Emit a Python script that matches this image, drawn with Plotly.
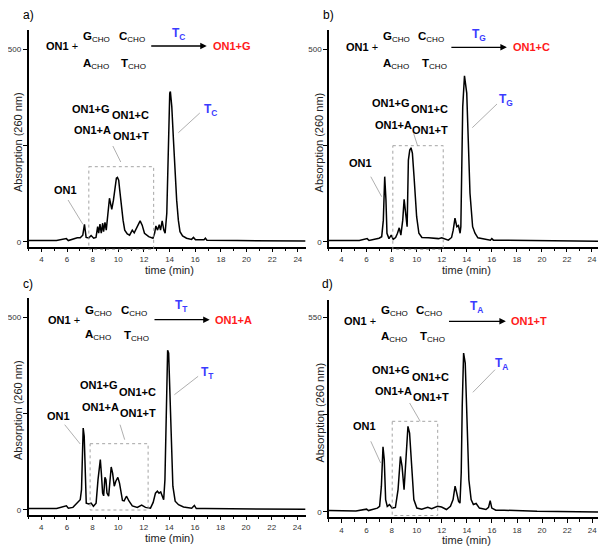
import plotly.graph_objects as go

# ---------------- data ----------------
time_a = [3.0, 5.18, 5.95, 6.1, 6.8, 7.03, 7.23, 7.36, 7.49, 7.7, 7.88, 8.08, 8.26, 8.39, 8.47, 8.57, 8.67,
          8.78, 8.85, 8.96, 9.06, 9.16, 9.24, 9.31, 9.39, 9.49, 9.62, 9.75, 9.85, 9.93, 10.03, 10.11, 10.24,
          10.37, 10.5, 10.7, 10.88, 11.09, 11.24, 11.47, 11.7, 11.86, 12.04, 12.37, 12.7, 12.83, 12.93, 13.06,
          13.19, 13.29, 13.42, 13.55, 13.65, 13.78, 13.88, 14.01, 14.06, 14.17, 14.3, 14.42, 14.55, 14.68,
          14.81, 15.01, 15.32, 15.71, 15.86, 16.02, 16.68, 16.79, 16.91, 19.3, 24.6]
abs_a = [3, 3, 8, 3, 10, 10, 17, 45, 11, 10, 16, 9, 11, 39, 22, 46, 22,
         48, 26, 50, 30, 61, 74, 113, 100, 84, 108, 143, 165, 167, 160, 134, 91,
         56, 30, 20, 17, 30, 23, 39, 54, 43, 22, 13, 9, 22, 41, 30,
         44, 30, 54, 30, 22, 74, 238, 386, 390, 351, 264, 178, 108, 56,
         26, 15, 9, 6, 11, 5, 5, 9, 4, 3, 2]

time_b = [3.0, 5.29, 5.42, 6.05, 6.2, 7.0, 7.21, 7.34, 7.45, 7.55, 7.63, 7.79, 7.97, 8.13, 8.32, 8.47, 8.61,
          8.74, 8.89, 9.0, 9.13, 9.24, 9.34, 9.45, 9.55, 9.66, 9.79, 9.89, 10.0, 10.18, 10.42, 10.95, 11.74,
          12.0, 12.53, 12.79, 12.92, 13.06, 13.21, 13.34, 13.47, 13.53, 13.6, 13.68, 13.82, 14.0, 14.13,
          14.26, 14.47, 14.66, 14.89, 15.42, 15.89, 16.0, 16.13, 17.0, 19.6, 25.1]
abs_b = [3, 4, 3, 8, 3, 9, 13, 56, 169, 108, 22, 8, 17, 6, 11, 22, 36,
         17, 56, 110, 74, 39, 212, 238, 244, 230, 170, 108, 65, 22, 11, 10, 8,
         10, 4, 11, 30, 61, 39, 42, 22, 39, 169, 351, 431, 386, 256,
         126, 39, 22, 10, 6, 4, 8, 4, 4, 3, 1]

time_c = [3.0, 5.19, 5.96, 6.11, 6.47, 6.86, 7.04, 7.14, 7.22, 7.27, 7.35, 7.43, 7.51, 7.71, 7.89, 8.07,
          8.28, 8.43, 8.54, 8.61, 8.69, 8.79, 8.87, 8.97, 9.05, 9.13, 9.26, 9.36, 9.46, 9.57, 9.7, 9.82,
          9.98, 10.11, 10.21, 10.34, 10.47, 10.65, 10.86, 11.11, 11.5, 11.84, 12.14, 12.53, 12.74, 12.92,
          13.07, 13.2, 13.33, 13.46, 13.56, 13.66, 13.77, 13.87, 13.95, 14.05, 14.13, 14.28, 14.46, 14.72,
          15.11, 15.75, 15.96, 16.11, 16.78, 19.36, 24.65]
abs_c = [3, 3, 10, 4, 6, 19, 26, 52, 165, 212, 191, 95, 17, 15, 17, 9,
         17, 78, 117, 130, 95, 43, 36, 84, 78, 43, 35, 78, 111, 95, 61, 74,
         84, 69, 43, 24, 23, 35, 22, 10, 6, 12, 6, 4, 19, 43,
         48, 43, 46, 33, 26, 78, 269, 414, 407, 286, 182, 61, 22, 13,
         7, 4, 11, 3, 3, 2, 1]

time_d = [3.0, 5.15, 6.0, 6.15, 6.86, 7.04, 7.18, 7.31, 7.41, 7.52, 7.65, 7.83, 8.04, 8.3, 8.51, 8.7, 8.83,
          8.99, 9.09, 9.2, 9.3, 9.43, 9.62, 9.77, 10.01, 10.4, 10.88, 11.19, 11.66, 11.98, 12.37, 12.69,
          12.9, 13.06, 13.19, 13.34, 13.45, 13.55, 13.63, 13.74, 13.87, 14.0, 14.16, 14.34, 14.52, 14.74,
          15.0, 15.52, 15.73, 15.86, 15.99, 16.31, 16.97, 19.6, 25.1]
abs_d = [4, 3, 8, 4, 11, 16, 73, 184, 148, 35, 16, 21, 11, 13, 63, 157, 129,
         63, 120, 204, 242, 223, 110, 35, 11, 8, 13, 9, 16, 14, 7, 16,
         35, 73, 54, 30, 25, 110, 298, 449, 421, 251, 91, 35, 21, 24,
         11, 7, 13, 32, 11, 5, 5, 2, 0]

x_tick_vals = [4, 6, 8, 10, 12, 14, 16, 18, 20, 22, 24]
y_ticks_abc = [0, 250, 500]
y_text_abc = ["0", "", "500"]
y_ticks_d = [0, 275, 550]
y_text_d = ["0", "", "550"]

panel_letters = ["a)", "b)", "c)", "d)"]
template_labels = ["G", "C", "A", "T"]
product_labels = ["ON1+G", "ON1+C", "ON1+A", "ON1+T"]
templates = ["T<sub>C</sub>", "T<sub>G</sub>", "T<sub>T</sub>", "T<sub>A</sub>"]
products = ["ON1+G", "ON1+C", "ON1+A", "ON1+T"]

# ---------------- figure ----------------
OFF = 8                      # page body margin offset
W, H = 606 - OFF, 547 - OFF
FONT = "Liberation Sans, Arial, sans-serif"
BLUE = "#3b3bff"
RED = "#ff1a1a"
GREY = "#9a9a9a"


def fx(p):
    return (p - OFF) / W


def fy(p):
    return 1 - (p - OFF) / H


# per panel: plot-area px (x0, x1, ytop, ybottom) in window pixels, x range, y range, ticks
panels = [
    dict(t=time_a, v=abs_a, box=(21.7, 302, 30, 246.7), xr=[3, 24.6], yr=[-13, 550],
         yt=y_ticks_abc, ytt=y_text_abc),
    dict(t=time_b, v=abs_b, box=(325.7, 606, 30, 246.7), xr=[3, 25.12], yr=[-13, 550],
         yt=y_ticks_abc, ytt=y_text_abc),
    dict(t=time_c, v=abs_c, box=(21.7, 302, 298, 514.7), xr=[3, 24.65], yr=[-13, 550],
         yt=y_ticks_abc, ytt=y_text_abc),
    dict(t=time_d, v=abs_d, box=(325.7, 606, 299.7, 517.3), xr=[3, 25.1], yr=[-15, 600],
         yt=y_ticks_d, ytt=y_text_d),
]

fig = go.Figure()
layout = dict(width=W, height=H, margin=dict(l=0, r=0, t=0, b=0),
              paper_bgcolor="white", plot_bgcolor="white", showlegend=False,
              font=dict(family=FONT, size=11, color="black"))

for i, p in enumerate(panels):
    n = "" if i == 0 else str(i + 1)
    x0, x1, yt_, yb_ = p["box"]
    fig.add_trace(go.Scatter(x=p["t"], y=p["v"], mode="lines",
                             line=dict(color="black", width=1.5),
                             xaxis="x" + n, yaxis="y" + n, hoverinfo="skip"))
    layout["xaxis" + n] = dict(domain=[max(0, fx(x0)), min(1, fx(x1))], anchor="y" + n, range=p["xr"],
                               showline=True, linecolor="black", linewidth=1.5,
                               ticks="outside", ticklen=4, tickwidth=1, tickcolor="black",
                               tickvals=x_tick_vals, showgrid=False, zeroline=False,
                               tickfont=dict(size=8, color="#333"),
                               minor=dict(dtick=1, tick0=0, ticks="outside", ticklen=3,
                                          tickcolor="black", showgrid=False))
    layout["yaxis" + n] = dict(domain=[max(0, fy(yb_)), min(1, fy(yt_))], anchor="x" + n, range=p["yr"],
                               showline=True, linecolor="black", linewidth=1.5,
                               ticks="outside", ticklen=4, tickwidth=1, tickcolor="black",
                               tickvals=p["yt"], ticktext=p["ytt"], showgrid=False,
                               zeroline=False, tickfont=dict(size=8, color="#333"))

ann = []
shapes = []


def text(x, y, s, size=11, color="black", anchor="left", yanchor="middle"):
    ann.append(dict(x=fx(x), y=fy(y), xref="paper", yref="paper", text=s, showarrow=False,
                    xanchor=anchor, yanchor=yanchor, borderpad=0, borderwidth=0,
                    font=dict(family=FONT, size=size, color=color)))


def line(xa, ya, xb, yb, dash="solid", color=GREY, width=0.8):
    shapes.append(dict(type="line", xref="paper", yref="paper", x0=fx(xa), y0=fy(ya),
                       x1=fx(xb), y1=fy(yb), line=dict(color=color, width=width, dash=dash)))


def rect(xa, ya, xb, yb):
    shapes.append(dict(type="rect", xref="paper", yref="paper", x0=fx(xa), y0=fy(ya),
                       x1=fx(xb), y1=fy(yb), line=dict(color=GREY, width=0.9, dash="dot")))


def sub(letter):
    return "<b>%s</b><sub>CHO</sub>" % letter


# annotation layout per panel (window pixel positions)
ann_pos = [
    dict(letter=(16, 15), on1p=(39, 46), G=(77, 35), C=(113, 35), A=(77, 62), T=(115, 62),
         arrow=(145, 202, 46), tmpl=(167, 32), prod=(208, 46),
         pg=(66, 109), pc=(106, 115), pa=(68, 130), pt=(107, 136), lead=(107, 146, 115, 162),
         rect=(82.7, 166.7, 148.3, 249.3), on1=(47, 190), on1lead=(61.7, 200, 76.7, 224.3),
         tl=(199, 108), tlead=(195, 113, 173.3, 132.7)),
    dict(letter=(320, 15), on1p=(343, 47), G=(380, 35), C=(416, 35), A=(380, 62), T=(420, 62),
         arrow=(448.7, 505.7, 47.3), tmpl=(470, 33), prod=(512, 47.3),
         pg=(369, 103.3), pc=(409, 109), pa=(372, 125), pt=(410, 130.3), lead=(411.3, 133.3, 415.3, 145.7),
         rect=(390.3, 145.7, 441.3, 249.3), on1=(346, 163.3), on1lead=(368, 176.7, 379, 196.7),
         tl=(498, 97.5), tlead=(495.7, 104, 470.7, 127.7)),
    dict(letter=(16, 284), on1p=(41.7, 320), G=(79.3, 309), C=(115, 309), A=(79.3, 333), T=(118.3, 334),
         arrow=(148.3, 205, 319.7), tmpl=(170, 304), prod=(210, 319.7),
         pg=(73.3, 385.3), pc=(113.3, 391.5), pa=(76, 407), pt=(114.3, 413), lead=(114.3, 424.7, 119, 439.7),
         rect=(84, 443.7, 142.7, 510), on1=(40, 415.7), on1lead=(58.3, 424.7, 74, 444),
         tl=(196, 370.5), tlead=(193.3, 376.3, 169.3, 394.7)),
    dict(letter=(319, 284), on1p=(341.3, 321), G=(378, 309), C=(413.7, 309), A=(378, 335), T=(418, 335),
         arrow=(446.3, 504.7, 321.3), tmpl=(468.7, 305), prod=(509.7, 321.3),
         pg=(369.7, 370.3), pc=(409.7, 377), pa=(372, 391.3), pt=(410.3, 397), lead=(407.3, 403, 418, 421.3),
         rect=(389.7, 421.3, 435.7, 515.5), on1=(349.7, 426.3), on1lead=(368, 441.3, 378, 463),
         tl=(493.7, 362), tlead=(493.7, 369.7, 471.3, 392.3)),
]

for i, a in enumerate(ann_pos):
    text(*a["letter"], panel_letters[i], size=12)
    text(*a["on1p"], "<b>ON1</b> +", size=11)
    for k, lab in zip(["G", "C", "A", "T"], template_labels):
        text(a[k][0], a[k][1] + 2, sub(lab), size=11.5)
    xa, xb, ya = a["arrow"]
    ann.append(dict(x=fx(xb), y=fy(ya), xref="paper", yref="paper", text="", showarrow=True,
                    ax=-(xb - xa), ay=0, arrowhead=2, arrowsize=1, arrowwidth=1.3,
                    arrowcolor="black"))
    text(a["tmpl"][0], a["tmpl"][1] + 2, "<b>%s</b>" % templates[i], size=12, color=BLUE)
    text(*a["prod"], "<b>%s</b>" % products[i], size=11, color=RED)
    for key, lab in zip(["pg", "pc", "pa", "pt"], product_labels):
        text(*a[key], "<b>%s</b>" % lab, size=11)
    line(*a["lead"])
    rect(*a["rect"])
    text(*a["on1"], "<b>ON1</b>", size=11)
    line(*a["on1lead"])
    text(a["tl"][0], a["tl"][1] + 2, "<b>%s</b>" % templates[i], size=12, color=BLUE)
    line(*a["tlead"])

# axis titles
for i, p in enumerate(panels):
    x0, x1, yt_, yb_ = p["box"]
    xmid = x0 + (x1 - x0) * ((14 - p["xr"][0]) / (p["xr"][1] - p["xr"][0]))
    text(xmid, yb_ + 23, "time (min)", size=11, color="#222", anchor="center")
    ann.append(dict(x=fx(x0 - 10), y=fy((yt_ + yb_) / 2 + 4), xref="paper", yref="paper",
                    text="Absorption (260 nm)", showarrow=False, textangle=-90,
                    xanchor="center", yanchor="middle", borderpad=0, borderwidth=0,
                    font=dict(family=FONT, size=11, color="#222")))

layout["annotations"] = ann
layout["shapes"] = shapes
fig.update_layout(**layout)
fig.write_html("out.html")
